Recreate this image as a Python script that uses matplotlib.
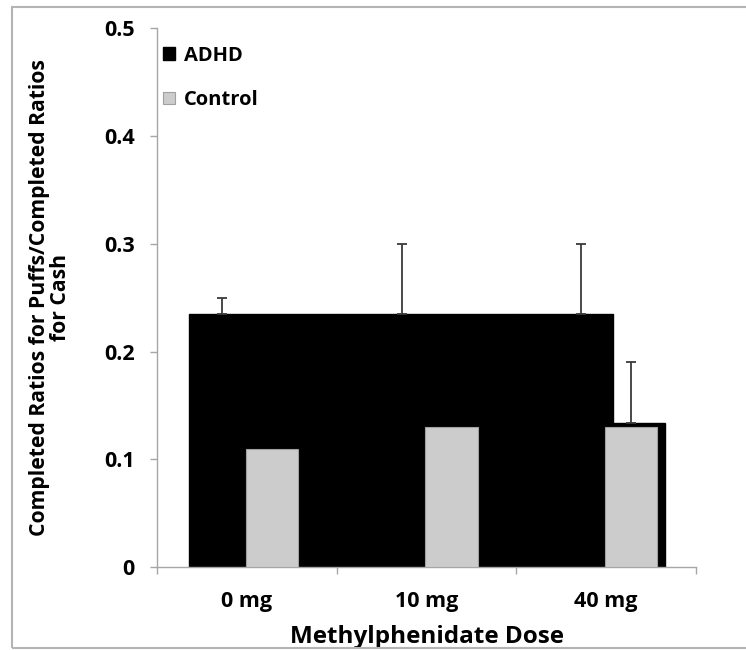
import matplotlib
matplotlib.use("Agg")
import matplotlib.pyplot as plt
from matplotlib.patches import Rectangle
import numpy as np

plt.rcParams['font.family'] = ['Open Sans', 'DejaVu Sans']
plt.rcParams['font.weight'] = 'bold'

# values
doses = ["0 mg", "10 mg", "40 mg"]
adhd = [0.235, 0.235, 0.235]
adhd_err = [0.015, 0.065, 0.065]
control = [0.11, 0.13, 0.13]
control_back = [0.0, 0.0, 0.134]   # black block behind the 40 mg control bar
control_err = [0.0, 0.0, 0.056]

x = np.arange(len(doses))
off = 0.139

fig = plt.figure(figsize=(7.46, 6.5), dpi=100)
ax = fig.add_axes([0.2105, 0.1277, 0.7225, 0.8285])

# ADHD bars, drawn as one wide black block as in the original
lefts = [-0.322, 0.5, 1.5]
widths = [0.822, 1.0, 0.539]
adhd_bars = ax.bar(lefts, adhd, width=widths, align='edge', color='black',
                   edgecolor='black', linewidth=1, label='ADHD', zorder=2)
ax.bar(x + 0.039, control_back, width=0.289, align='edge', color='black',
       edgecolor='black', linewidth=1, zorder=2)
ctrl_bars = ax.bar(x + off, control, width=0.29, color='#cccccc',
                   edgecolor='#a0a0a0', linewidth=0.8, label='Control', zorder=3)

# upper error bars only
ax.errorbar(x - off, adhd, yerr=[np.zeros(3), adhd_err], fmt='none',
            ecolor='#3a3a3a', elinewidth=1.3, capsize=3.6, capthick=1.3, zorder=4)
ce = np.array(control_err)
cb = np.array(control_back)
m = ce > 0
ax.errorbar((x + off)[m], cb[m], yerr=[np.zeros(m.sum()), ce[m]], fmt='none',
            ecolor='#3a3a3a', elinewidth=1.3, capsize=3.6, capthick=1.3, zorder=4)

ax.set_xlim(-0.5, 2.5)
ax.set_ylim(0, 0.5)
ax.set_yticks([0, 0.1, 0.2, 0.3, 0.4, 0.5])
ax.set_yticklabels(["0", "0.1", "0.2", "0.3", "0.4", "0.5"])
ax.set_xticks([-0.5, 0.5, 1.5, 2.5])
ax.set_xticklabels([])
ax.set_xticks(x, minor=True)
ax.set_xticklabels(doses, minor=True)
ax.tick_params(axis='x', which='minor', length=0, pad=17, labelsize=15.5)
ax.tick_params(axis='x', which='major', length=5, color='#a6a6a6', width=1)
ax.tick_params(axis='y', length=5, color='#a6a6a6', width=1, pad=11, labelsize=15.5)

for s in ['top', 'right']:
    ax.spines[s].set_visible(False)
for s in ['left', 'bottom']:
    ax.spines[s].set_color('#a6a6a6')
    ax.spines[s].set_linewidth(1)

ax.set_xlabel("Methylphenidate Dose", fontsize=17.5, fontweight='bold', labelpad=10)
ax.set_ylabel("Completed Ratios for Puffs/Completed Ratios\nfor Cash",
              fontsize=15.2, fontweight='bold', labelpad=24, linespacing=1.0)

ax.legend(handles=[adhd_bars, ctrl_bars], loc='upper left',
          bbox_to_anchor=(-0.012, 0.99), frameon=False, fontsize=14.5,
          handlelength=0.6, handleheight=0.6, handletextpad=0.45,
          labelspacing=1.2, borderaxespad=0.2)

fig.patches.append(Rectangle((0.016, 0.003), 1.0, 0.986, transform=fig.transFigure,
                             fill=False, edgecolor='#b4b4b4', linewidth=1.5))

fig.savefig("out.png", dpi=100)
